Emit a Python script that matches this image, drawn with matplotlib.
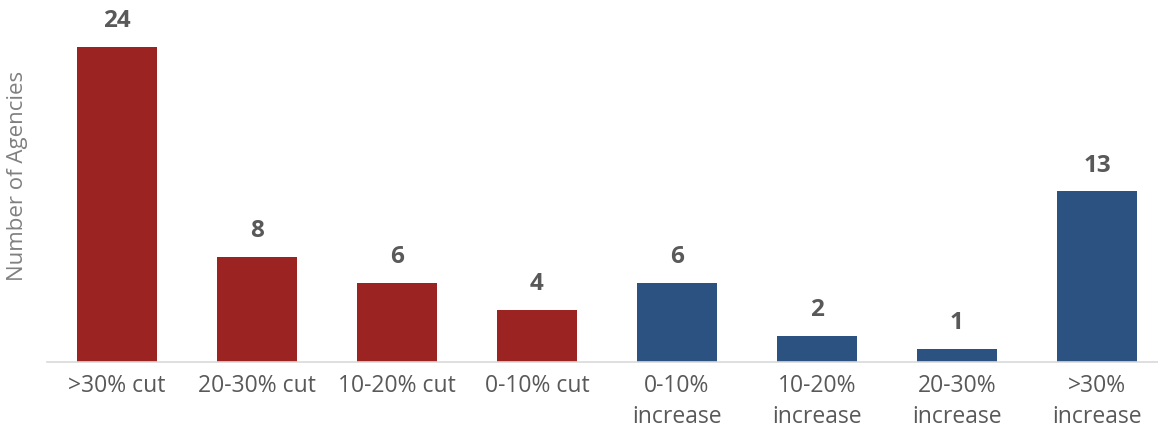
import matplotlib
matplotlib.use("Agg")
import matplotlib.pyplot as plt

categories = [">30% cut", "20-30% cut", "10-20% cut", "0-10% cut",
              "0-10%\nincrease", "10-20%\nincrease", "20-30%\nincrease", ">30%\nincrease"]
counts = [24, 8, 6, 4, 6, 2, 1, 13]
colors = ["#9B2423"] * 4 + ["#2C5282"] * 4

plt.rcParams['font.family'] = ['Open Sans', 'DejaVu Sans']
gray = "#595959"

fig = plt.figure(figsize=(11.58, 4.30), dpi=100)
ax = fig.add_axes([47 / 1158, 1 - 362 / 430, 1120 / 1158, 362 / 430])

x = list(range(len(counts)))
bars = ax.bar(x, counts, width=0.565, color=colors)
for b, v in zip(bars, counts):
    ax.text(b.get_x() + b.get_width() / 2, v + 1.05, str(v), ha="center", va="bottom",
            fontsize=17.5, fontweight="bold", color=gray)

ax.set_xlim(-0.5, 7.5)
ax.set_ylim(0, 24 * 362 / 315)
ax.set_xticks(x)
ax.set_xticklabels(categories, fontsize=16.5, color=gray, linespacing=1.35)
ax.tick_params(axis="x", length=0, pad=9)
ax.set_yticks([])
for s in ["top", "right", "left"]:
    ax.spines[s].set_visible(False)
ax.spines["bottom"].set_color("#D9D9D9")
ax.spines["bottom"].set_linewidth(1.2)

fig.text(18 / 1158, 1 - 176 / 430, "Number of Agencies", rotation=90, ha="center",
         va="center", fontsize=16, color="#808080")

plt.savefig("out.png", dpi=100)
